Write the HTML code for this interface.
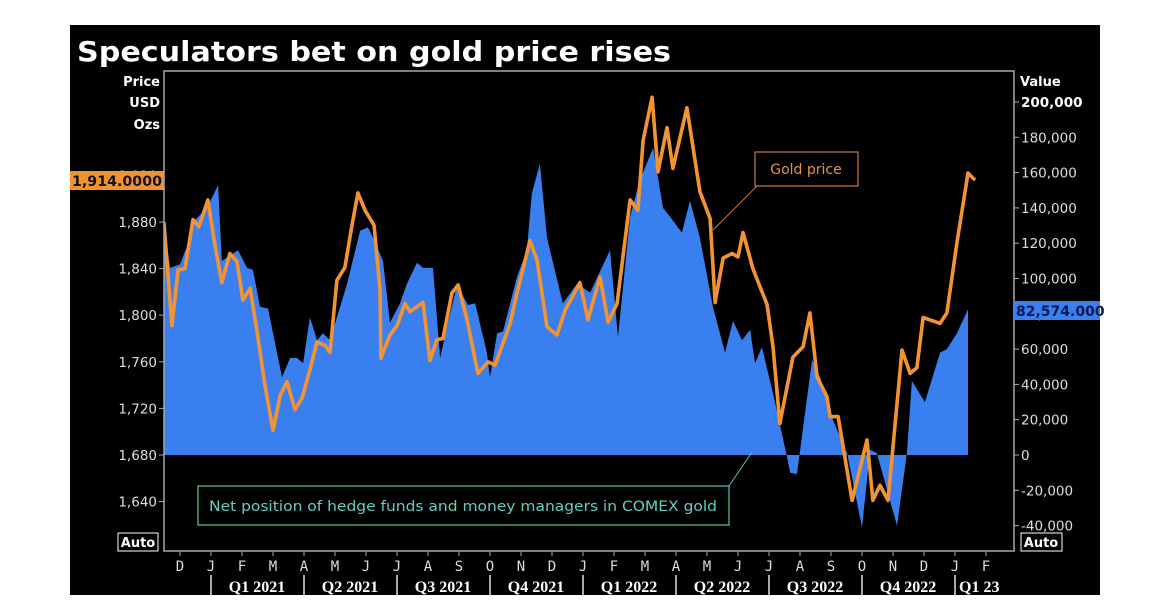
<!DOCTYPE html>
<html><head><meta charset="utf-8">
<style>
body{margin:0;background:#fff;width:1170px;height:613px;overflow:hidden;font-family:"DejaVu Sans","Liberation Sans",sans-serif}
svg{display:block}
</style></head>
<body>
<svg id="chart" width="1170" height="613" viewBox="0 0 1170 613" xmlns="http://www.w3.org/2000/svg">
<rect x="70" y="25" width="1030" height="570" fill="#000"/>
<text x="77" y="61" fill="#fff" font-size="28" font-weight="bold" textLength="594" lengthAdjust="spacingAndGlyphs">Speculators bet on gold price rises</text>
<g fill="#fff" font-size="13" font-weight="bold" text-anchor="end">
<text x="160" y="86">Price</text><text x="160" y="107">USD</text><text x="160" y="129">Ozs</text></g>
<text x="1020" y="86" fill="#fff" font-size="13" font-weight="bold">Value</text>
<defs><clipPath id="pc"><rect x="164" y="71" width="850" height="480"/></clipPath></defs>
<g id="plot" clip-path="url(#pc)"></g>
<rect x="164" y="71" width="850" height="480" fill="none" stroke="#a8a8a8" stroke-width="1.5"/>
<g id="axes"></g>
<line x1="757" y1="186" x2="713" y2="230" stroke="#c77a3a" stroke-width="1"/>
<rect x="755" y="152" width="103" height="34" fill="#000" stroke="#c77a3a" stroke-width="1.2"/>
<text x="806" y="174" fill="#e8923c" font-size="14" text-anchor="middle">Gold price</text>
<line x1="729" y1="486" x2="752" y2="452" stroke="#4fc8b8" stroke-width="1"/>
<rect x="198" y="486" width="531" height="39" fill="#000" stroke="#4fc8b8" stroke-width="1.2"/>
<text x="463" y="511" fill="#5fd0c0" font-size="14" text-anchor="middle" textLength="508" lengthAdjust="spacingAndGlyphs">Net position of hedge funds and money managers in COMEX gold</text>
<rect x="70" y="171" width="94" height="19" fill="#f0922f"/>
<text x="117" y="186" fill="#111" font-size="14" font-weight="bold" text-anchor="middle" textLength="90" lengthAdjust="spacingAndGlyphs">1,914.0000</text>
<rect x="1014" y="301" width="86" height="19" fill="#3a7ff0"/>
<text x="1016" y="316" fill="#0a1a55" font-size="14" font-weight="bold">82,574.000</text>
<rect x="118" y="533" width="40" height="18" fill="#000" stroke="#fff" stroke-width="1"/>
<text x="138" y="547" fill="#fff" font-size="13" font-weight="bold" text-anchor="middle">Auto</text>
<rect x="1021" y="533" width="41" height="18" fill="#000" stroke="#fff" stroke-width="1"/>
<text x="1041" y="547" fill="#fff" font-size="13" font-weight="bold" text-anchor="middle">Auto</text>
</svg>
<script>
const goldT=[-0.52,-0.26,-0.06,0.16,0.42,0.61,0.90,1.13,1.35,1.61,1.84,2.03,2.26,2.48,2.74,3.00,3.23,3.45,3.71,3.94,4.19,4.42,4.68,4.84,5.06,5.32,5.52,5.74,5.97,6.26,6.45,6.48,6.77,7.00,7.26,7.42,7.58,7.84,8.06,8.29,8.48,8.77,8.97,9.26,9.61,9.94,10.16,10.65,10.87,11.29,11.52,11.84,12.16,12.42,12.90,13.16,13.55,13.81,14.10,14.52,14.77,14.94,15.23,15.42,15.71,15.90,16.35,16.77,17.10,17.26,17.52,17.81,18.00,18.16,18.48,18.94,19.13,19.35,19.77,20.10,20.32,20.55,20.87,20.97,21.23,21.68,22.16,22.35,22.58,22.84,23.29,23.55,23.77,23.97,24.52,24.74,25.06,25.42,25.65];
const goldPrice=[1880,1791,1839,1840,1882,1876,1899,1860,1828,1853,1846,1813,1823,1787,1740,1701,1731,1743,1719,1729,1753,1777,1774,1768,1830,1841,1873,1905,1890,1877,1822,1763,1783,1791,1810,1803,1806,1811,1761,1779,1780,1819,1826,1796,1750,1760,1757,1793,1819,1864,1847,1790,1783,1804,1828,1796,1833,1794,1810,1899,1890,1950,1987,1923,1961,1926,1978,1906,1883,1811,1849,1853,1850,1871,1840,1809,1773,1707,1764,1773,1802,1747,1730,1713,1713,1641,1693,1641,1654,1641,1770,1750,1755,1798,1793,1802,1862,1922,1916];
const netT=[-0.52,-0.32,0,0.26,0.42,0.87,1.23,1.35,1.87,2.16,2.35,2.58,2.84,3.29,3.55,3.77,3.97,4.19,4.42,4.61,4.84,5.06,5.39,5.81,6.06,6.23,6.55,6.77,7.10,7.32,7.65,7.84,8.16,8.39,8.71,8.94,9.29,9.52,9.90,10.00,10.23,10.42,10.87,11.19,11.35,11.61,11.84,12.35,12.81,13.23,13.87,14.13,14.52,14.84,15.26,15.58,15.81,16.19,16.45,16.77,17.19,17.58,17.84,18.13,18.39,18.55,18.77,19.13,19.58,19.68,19.90,20.39,20.65,21.06,21.52,22.00,22.26,22.48,23.13,23.45,23.61,24.03,24.52,24.74,25.06,25.42];
const netPosition=[131,106,108,120,132,140,153,110,116,106,105,84,83,44,55,55,52,78,65,69,65,78,97,127,129,123,110,75,86,97,109,106,106,55,80,96,85,86,58,44,69,70,101,116,148,165,123,86,97,92,116,67,135,156,174,140,135,126,144,123,84,58,76,65,71,52,61,35,-1,-10,-11,54,44,20,1,-41,3,1,-40,1,42,30,58,60,69,82.574];
const priceTicks=[1640,1680,1720,1760,1800,1840,1880,1920];
const valueTicks=[-40,-20,0,20,40,60,80,100,120,140,160,180,200];
const monthLabels=["D","J","F","M","A","M","J","J","A","S","O","N","D","J","F","M","A","M","J","J","A","S","O","N","D","J","F"];
const quarterLabels=["Q1 2021","Q2 2021","Q3 2021","Q4 2021","Q1 2022","Q2 2022","Q3 2022","Q4 2022","Q1 23"];
const NS="http://www.w3.org/2000/svg";
const xOf=m=>180+m*31;
const yP=p=>455-(p-1680)*1.165;
const yV=v=>455-v*1.765;
function mk(tag,attrs,parent){const e=document.createElementNS(NS,tag);for(const k in attrs)e.setAttribute(k,attrs[k]);parent.appendChild(e);return e;}
const plot=document.getElementById('plot'),axes=document.getElementById('axes');
let d="M"+xOf(netT[0])+","+yV(0);
netT.forEach((t,i)=>{d+=" L"+xOf(t).toFixed(1)+","+yV(netPosition[i]).toFixed(1);});
d+=" L"+xOf(netT[netT.length-1])+","+yV(0)+" Z";
const area=mk('path',{d:d,fill:'#3a7ff0'},plot);


const gl=mk('polyline',{points:goldT.map((t,i)=>xOf(t).toFixed(1)+","+yP(goldPrice[i]).toFixed(1)).join(" "),fill:'none',stroke:'#f39332','stroke-width':3.6,'stroke-linejoin':'round'},plot);


priceTicks.forEach(p=>{const y=yP(p);
 mk('line',{x1:159,x2:164,y1:y,y2:y,stroke:'#a8a8a8'},axes);
 const t=mk('text',{x:157,y:y+5,fill:'#ddd','font-size':13.5,'text-anchor':'end'},axes);
 
 
 t.textContent=p.toLocaleString('en-US');});
valueTicks.forEach(v=>{const y=yV(v);
 mk('line',{x1:1014,x2:1019,y1:y,y2:y,stroke:'#a8a8a8'},axes);
 const t=mk('text',{x:1021,y:y+5,fill:v===200?'#fff':'#ddd','font-size':13.5,'font-weight':v===200?'bold':'normal'},axes);
 
 
 t.textContent=(v*1000).toLocaleString('en-US');});
monthLabels.forEach((m,i)=>{const x=xOf(i);
 mk('line',{x1:x,x2:x,y1:552,y2:556,stroke:'#a8a8a8'},axes);
 const t=mk('text',{x:x,y:571,fill:'#ddd','font-size':14,'text-anchor':'middle','font-family':'DejaVu Sans Mono, monospace'},axes);
 
 
 t.textContent=m;});
quarterLabels.forEach((q,i)=>{const x0=xOf(1+i*3);
 mk('line',{x1:x0,x2:x0,y1:575,y2:595,stroke:'#fff','stroke-width':1.3},axes);
 const t=mk('text',{x:x0+(i===8?4:46),y:592,fill:'#fff','font-size':16,'font-weight':'bold','text-anchor':i===8?'start':'middle','font-family':'Liberation Serif, serif'},axes);
 
 
 t.textContent=q;});
</script>
</body></html>
